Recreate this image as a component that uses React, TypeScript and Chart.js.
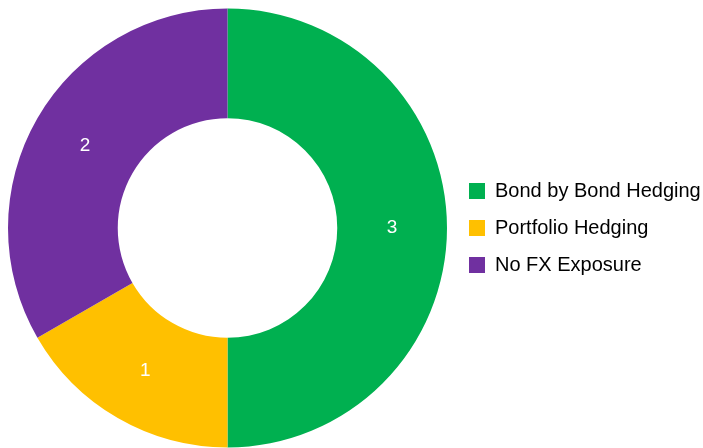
import React, { useEffect, useRef } from "react";
import { Chart, registerables } from "chart.js";

Chart.register(...registerables);

const categories = ["Bond by Bond Hedging", "Portfolio Hedging", "No FX Exposure"];
const values = [3, 1, 2];
const colors = ["#00B050", "#FFC000", "#7030A0"];

const sliceLabels = {
  id: "sliceLabels",
  afterDatasetsDraw(chart: any) {
    const { ctx } = chart;
    const meta = chart.getDatasetMeta(0);
    ctx.save();
    ctx.fillStyle = "#ffffff";
    ctx.font = "19px 'Liberation Sans', Arial, sans-serif";
    ctx.textAlign = "center";
    ctx.textBaseline = "middle";
    meta.data.forEach((arc: any, i: number) => {
      const p = arc.tooltipPosition();
      ctx.fillText(String(values[i]), p.x, p.y);
    });
    ctx.restore();
  },
};

const PLOT_WIDTH = 439;

const layoutTweak = {
  id: "layoutTweak",
  afterLayout(chart: any) {
    const ca = chart.chartArea;
    ca.right = ca.left + PLOT_WIDTH;
    ca.width = PLOT_WIDTH;
    const lg = chart.legend;
    if (lg) {
      lg.left = ca.right + 5;
      lg.right = chart.width;
      lg.width = lg.right - lg.left;
    }
  },
};

export default function App() {
  const ref = useRef<HTMLCanvasElement>(null);
  useEffect(() => {
    const prevMargin = document.body.style.margin;
    document.body.style.margin = "0";
    if (!ref.current) return;
    const chart = new Chart(ref.current, {
      type: "doughnut",
      data: {
        labels: categories,
        datasets: [
          {
            data: values,
            backgroundColor: colors,
            borderWidth: 0,
          },
        ],
      },
      options: {
        animation: false,
        responsive: true,
        maintainAspectRatio: false,
        cutout: "50%",
        layout: { padding: 0 },
        plugins: {
          legend: {
            position: "right",
            labels: {
              boxWidth: 16,
              boxHeight: 16,
              padding: 17,
              color: "#000000",
              font: { size: 20, family: "'Liberation Sans', Arial, sans-serif" },
            },
          },
          tooltip: { enabled: false },
        },
      },
      plugins: [sliceLabels, layoutTweak],
    });
    return () => {
      chart.destroy();
      document.body.style.margin = prevMargin;
    };
  }, []);
  return (
    <div style={{ padding: "8px 0 0 8px", width: 695, height: 440 }}>
      <div style={{ width: 695, height: 440, position: "relative" }}>
        <canvas ref={ref} />
      </div>
    </div>
  );
}
